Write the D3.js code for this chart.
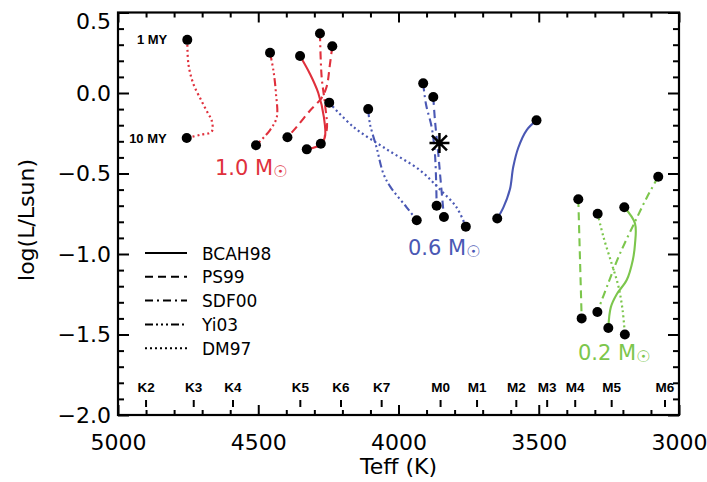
<!DOCTYPE html>
<html>
<head>
<meta charset="utf-8">
<script src="https://cdn.jsdelivr.net/npm/d3@7"></script>
<style>
  html, body { margin: 0; padding: 0; background: #fff; }
  svg { display: block; }
  text { font-family: "DejaVu Sans", sans-serif; fill: #000; }
</style>
</head>
<body>
<svg id="chart" width="707" height="482"></svg>
<script>
// Pre-main-sequence evolutionary tracks, 1 MY (first point) to 10 MY (last point)
const models = ["BCAH98", "PS99", "SDF00", "Yi03", "DM97"];
const massLabels = ["1.0", "0.6", "0.2"];

// 1.0 Msun
const bcah98_10_teff = [4351, 4316, 4286, 4266, 4262, 4277, 4327];
const bcah98_10_logL = [0.23, 0.12, 0.00, -0.15, -0.27, -0.32, -0.35];
const ps99_10_teff   = [4236, 4245, 4256, 4274, 4316, 4363, 4396];
const ps99_10_logL   = [0.29, 0.17, 0.04, -0.03, -0.11, -0.21, -0.275];
const sdf00_10_teff  = [4280, 4274, 4262, 4256, 4277];
const sdf00_10_logL  = [0.37, 0.10, -0.07, -0.23, -0.315];
const yi03_10_teff   = [4458, 4446, 4437, 4434, 4458, 4508];
const yi03_10_logL   = [0.25, 0.14, 0.00, -0.15, -0.23, -0.325];
const dm97_10_teff   = [4753, 4749, 4732, 4702, 4678, 4666, 4666, 4708, 4755];
const dm97_10_logL   = [0.33, 0.18, 0.06, -0.05, -0.13, -0.17, -0.24, -0.26, -0.28];

// 0.6 Msun
const bcah98_06_teff = [3508, 3543, 3573, 3591, 3603, 3626, 3648];
const bcah98_06_logL = [-0.17, -0.23, -0.34, -0.46, -0.60, -0.71, -0.78];
const ps99_06_teff   = [3876, 3870, 3858, 3850, 3838];
const ps99_06_logL   = [-0.025, -0.17, -0.38, -0.54, -0.77];
const sdf00_06_teff  = [3912, 3902, 3882, 3870, 3864];
const sdf00_06_logL  = [0.06, -0.07, -0.21, -0.38, -0.70];
const yi03_06_teff   = [4108, 4102, 4078, 4054, 4030, 3971, 3935];
const yi03_06_logL   = [-0.10, -0.19, -0.34, -0.50, -0.58, -0.71, -0.79];
const dm97_06_teff   = [4247, 4161, 4042, 3923, 3852, 3793, 3760];
const dm97_06_logL   = [-0.06, -0.21, -0.35, -0.48, -0.60, -0.71, -0.83];

// 0.2 Msun
const bcah98_02_teff = [3195, 3157, 3157, 3165, 3186, 3222, 3243, 3252];
const bcah98_02_logL = [-0.71, -0.81, -0.94, -1.04, -1.16, -1.25, -1.33, -1.46];
const ps99_02_teff   = [3359, 3353, 3347];
const ps99_02_logL   = [-0.66, -1.03, -1.40];
const sdf00_02_teff  = [3074, 3115, 3157, 3211, 3252, 3291];
const sdf00_02_logL  = [-0.52, -0.65, -0.80, -1.00, -1.18, -1.36];
const dm97_02_teff   = [3290, 3270, 3240, 3216, 3201, 3193];
const dm97_02_logL   = [-0.75, -0.89, -1.06, -1.20, -1.35, -1.50];

// Observed object
const starTeff = [3854];
const starLogL = [-0.31];

// Spectral-type temperature scale
const spTypes = ["K2", "K3", "K4", "K5", "K6", "K7", "M0", "M1", "M2", "M3", "M4", "M5", "M6"];
const spTeff  = [4900, 4730, 4590, 4350, 4205, 4060, 3850, 3720, 3580, 3470, 3370, 3240, 3050];

// Axis ticks
const xMajor = [5000, 4500, 4000, 3500, 3000];
const yMajor = [0.5, 0.0, -0.5, -1.0, -1.5, -2.0];

const massColors = { "1.0": "#e0303c", "0.6": "#4a58b4", "0.2": "#7cc64c" };
const dashes = {
  BCAH98: null,
  PS99: "8,5",
  SDF00: "8,4,2,4",
  Yi03: "8,3,2,3,2,3,2,3",
  DM97: "2,3"
};

const tracks = [
  { mass: "1.0", model: "BCAH98", teff: bcah98_10_teff, logL: bcah98_10_logL },
  { mass: "1.0", model: "PS99",   teff: ps99_10_teff,   logL: ps99_10_logL },
  { mass: "1.0", model: "SDF00",  teff: sdf00_10_teff,  logL: sdf00_10_logL },
  { mass: "1.0", model: "Yi03",   teff: yi03_10_teff,   logL: yi03_10_logL },
  { mass: "1.0", model: "DM97",   teff: dm97_10_teff,   logL: dm97_10_logL },
  { mass: "0.6", model: "BCAH98", teff: bcah98_06_teff, logL: bcah98_06_logL },
  { mass: "0.6", model: "PS99",   teff: ps99_06_teff,   logL: ps99_06_logL },
  { mass: "0.6", model: "SDF00",  teff: sdf00_06_teff,  logL: sdf00_06_logL },
  { mass: "0.6", model: "Yi03",   teff: yi03_06_teff,   logL: yi03_06_logL },
  { mass: "0.6", model: "DM97",   teff: dm97_06_teff,   logL: dm97_06_logL },
  { mass: "0.2", model: "BCAH98", teff: bcah98_02_teff, logL: bcah98_02_logL },
  { mass: "0.2", model: "PS99",   teff: ps99_02_teff,   logL: ps99_02_logL },
  { mass: "0.2", model: "SDF00",  teff: sdf00_02_teff,  logL: sdf00_02_logL },
  { mass: "0.2", model: "DM97",   teff: dm97_02_teff,   logL: dm97_02_logL }
];

const svg = d3.select("#chart");
const L = 118, R = 679, T = 12.5, B = 415;

const x = d3.scaleLinear().domain([5000, 3000]).range([L, R]);
const y = d3.scaleLinear().domain([-2.0, 0.5]).range([B, T]);

const xMinor = d3.range(5000, 2999, -100).filter(v => v % 500 !== 0);
const yMinor = d3.range(-20, 6).map(v => v / 10).filter(v => Math.round(v * 10) % 5 !== 0);

function styleAxis(g) {
  g.select(".domain").remove();
  g.selectAll(".tick line").attr("stroke", "#000").attr("stroke-width", 2);
  g.selectAll(".tick text").style("font-size", "22px").attr("fill", "#000");
}

// Bottom axis (ticks point inward)
svg.append("g").attr("transform", `translate(0,${B})`)
  .call(d3.axisBottom(x).tickValues(xMajor).tickSizeInner(-10).tickSizeOuter(0)
    .tickPadding(19).tickFormat(d3.format("d")))
  .call(styleAxis)
  .call(g => g.selectAll(".tick text").attr("dy", "0.71em"));
svg.append("g").attr("transform", `translate(0,${B})`)
  .call(d3.axisBottom(x).tickValues(xMinor).tickSizeInner(-5).tickSizeOuter(0).tickFormat(""))
  .call(styleAxis);

// Top axis
svg.append("g").attr("transform", `translate(0,${T})`)
  .call(d3.axisTop(x).tickValues(xMajor).tickSizeInner(-10).tickSizeOuter(0).tickFormat(""))
  .call(styleAxis);
svg.append("g").attr("transform", `translate(0,${T})`)
  .call(d3.axisTop(x).tickValues(xMinor).tickSizeInner(-5).tickSizeOuter(0).tickFormat(""))
  .call(styleAxis);

// Left axis
svg.append("g").attr("transform", `translate(${L},0)`)
  .call(d3.axisLeft(y).tickValues(yMajor).tickSizeInner(-11).tickSizeOuter(0)
    .tickPadding(7).tickFormat(d3.format(".1f")))
  .call(styleAxis)
  .call(g => g.selectAll(".tick").filter(d => d === 0.5).select("text").attr("dy", "0.72em"));
svg.append("g").attr("transform", `translate(${L},0)`)
  .call(d3.axisLeft(y).tickValues(yMinor).tickSizeInner(-6).tickSizeOuter(0).tickFormat(""))
  .call(styleAxis);

// Right axis
svg.append("g").attr("transform", `translate(${R},0)`)
  .call(d3.axisRight(y).tickValues(yMajor).tickSizeInner(-11).tickSizeOuter(0).tickFormat(""))
  .call(styleAxis);
svg.append("g").attr("transform", `translate(${R},0)`)
  .call(d3.axisRight(y).tickValues(yMinor).tickSizeInner(-6).tickSizeOuter(0).tickFormat(""))
  .call(styleAxis);

// Frame
svg.append("rect")
  .attr("x", L).attr("y", T).attr("width", R - L).attr("height", B - T)
  .attr("fill", "none").attr("stroke", "#000").attr("stroke-width", 2.2);

// Axis titles
svg.append("text")
  .attr("x", (L + R) / 2).attr("y", 474)
  .attr("text-anchor", "middle").style("font-size", "22px")
  .text("Teff (K)");
svg.append("text")
  .attr("transform", "translate(34,220) rotate(-90)")
  .attr("text-anchor", "middle").style("font-size", "22px")
  .text("log(L/Lsun)");

// Spectral-type markers along the bottom
const sp = svg.append("g");
spTypes.forEach((s, i) => {
  const px = x(spTeff[i]);
  sp.append("line")
    .attr("x1", px).attr("x2", px).attr("y1", 400).attr("y2", 407)
    .attr("stroke", "#000").attr("stroke-width", 2);
  sp.append("text")
    .attr("x", px).attr("y", 392).attr("text-anchor", "middle")
    .style("font-family", "'Liberation Sans', Arial, sans-serif")
    .style("font-weight", "bold").style("font-size", "13.5px")
    .text(s);
});

// Tracks
const line = d3.line()
  .x(d => x(d[0])).y(d => y(d[1]))
  .curve(d3.curveCatmullRom.alpha(0.5));

tracks.forEach(t => {
  const pts = t.teff.map((v, i) => [v, t.logL[i]]);
  svg.append("path")
    .attr("d", line(pts))
    .attr("fill", "none")
    .attr("stroke", massColors[t.mass])
    .attr("stroke-width", t.model === "DM97" ? 2.2 : 2.1)
    .attr("stroke-dasharray", dashes[t.model]);
});

// 1 MY and 10 MY end points
tracks.forEach(t => {
  const n = t.teff.length - 1;
  [[t.teff[0], t.logL[0]], [t.teff[n], t.logL[n]]].forEach(p => {
    svg.append("circle")
      .attr("cx", x(p[0])).attr("cy", y(p[1])).attr("r", 5)
      .attr("fill", "#000");
  });
});

// Age labels beside the DM97 1.0 Msun track
const ageFont = "'Liberation Sans', Arial, sans-serif";
svg.append("text")
  .attr("x", x(dm97_10_teff[0]) - 20).attr("y", y(dm97_10_logL[0]) + 4.5)
  .attr("text-anchor", "end")
  .style("font-family", ageFont).style("font-weight", "bold").style("font-size", "13px")
  .text("1 MY");
svg.append("text")
  .attr("x", x(dm97_10_teff[dm97_10_teff.length - 1]) - 20)
  .attr("y", y(dm97_10_logL[dm97_10_logL.length - 1]) + 4.5)
  .attr("text-anchor", "end")
  .style("font-family", ageFont).style("font-weight", "bold").style("font-size", "13px")
  .text("10 MY");

// Mass labels
const massPos = { "1.0": [215, 175], "0.6": [408, 255], "0.2": [578, 360] };
massLabels.forEach(m => {
  const t = svg.append("text")
    .attr("x", massPos[m][0]).attr("y", massPos[m][1])
    .style("font-size", "21px")
    .style("fill", massColors[m]);
  t.append("tspan").text(`${m} M`);
  t.append("tspan").attr("dy", 2).style("font-size", "16px").style("fill", massColors[m]).text("\u2609");
});

// Observed star (asterisk)
const sx = x(starTeff[0]), sy = y(starLogL[0]), a = 10, d = 7.5;
svg.append("path")
  .attr("d", `M${sx - a},${sy}L${sx + a},${sy}M${sx},${sy - a}L${sx},${sy + a}` +
             `M${sx - d},${sy - d}L${sx + d},${sy + d}M${sx - d},${sy + d}L${sx + d},${sy - d}`)
  .attr("stroke", "#000").attr("stroke-width", 2.5).attr("fill", "none");

// Legend
const legend = svg.append("g");
models.forEach((m, i) => {
  const ly = 253 + i * 23.8;
  legend.append("line")
    .attr("x1", 145).attr("x2", 187).attr("y1", ly).attr("y2", ly)
    .attr("stroke", "#000").attr("stroke-width", 2)
    .attr("stroke-dasharray", dashes[m]);
  legend.append("text")
    .attr("x", 202).attr("y", ly + 6.5)
    .style("font-size", "17px")
    .text(m);
});
</script>
</body>
</html>
